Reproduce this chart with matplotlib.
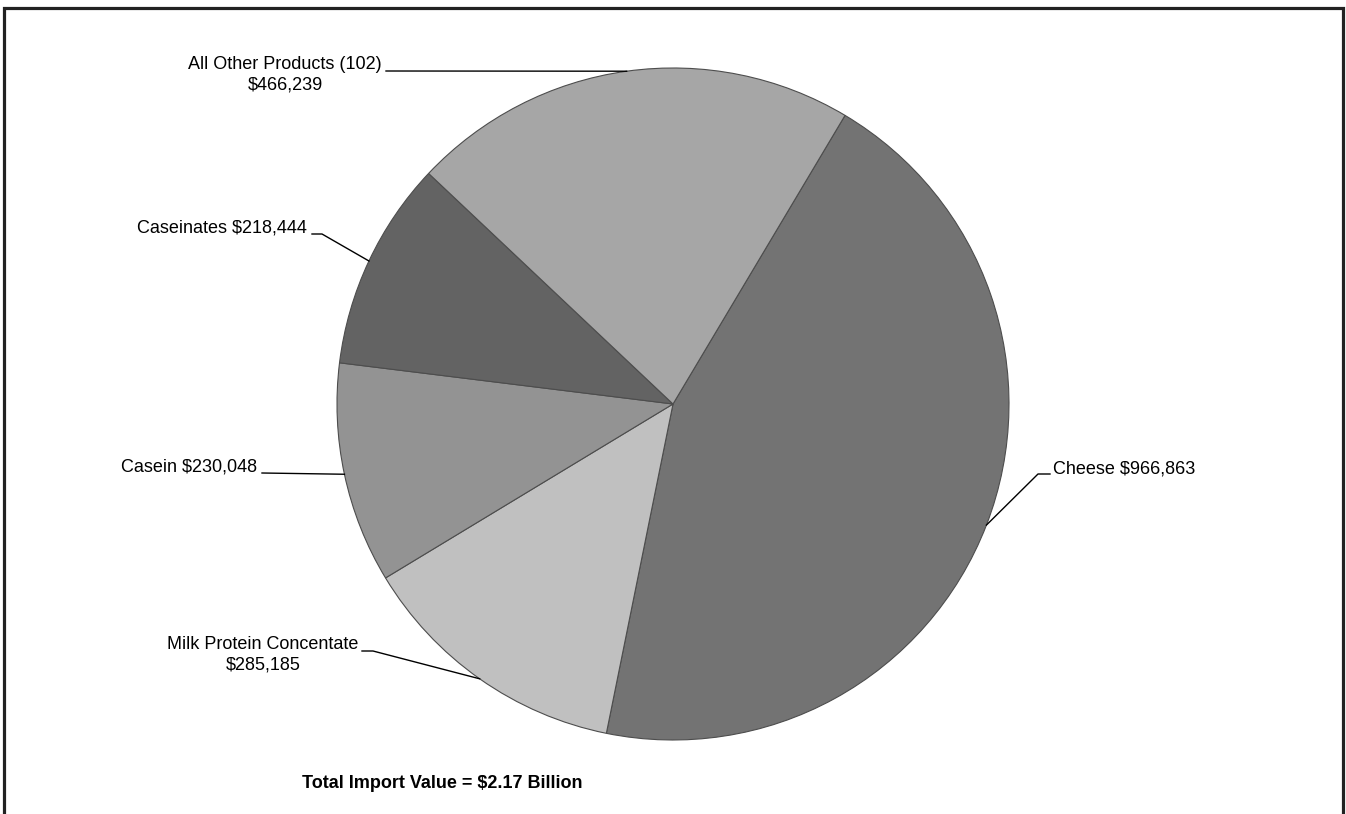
import numpy as np
import matplotlib.pyplot as plt

plt.rcParams['font.family'] = ['Liberation Sans', 'DejaVu Sans']

# dairy import values (thousand $)
products = ["Cheese", "Milk Protein Concentate", "Casein", "Caseinates", "All Other Products (102)"]
values = [966863, 285185, 230048, 218444, 466239]
colors = ["#737373", "#c0c0c0", "#939393", "#636363", "#a6a6a6"]
total_text = "Total Import Value = $2.17 Billion"

W, H = 1346, 814
fig = plt.figure(figsize=(W / 100, H / 100), dpi=100)
ax = fig.add_axes([0, 0, 1, 1])

def py(y):
    # pixel rows counted from the top
    return H - y

cx, cy, r = 673, py(404), 336
wedges, _ = ax.pie(values, colors=colors, startangle=59.2, counterclock=False,
                   center=(cx, cy), radius=r, frame=True,
                   wedgeprops=dict(edgecolor="#4d4d4d", linewidth=0.8))
ax.set_xlim(0, W)
ax.set_ylim(0, H)
ax.set_aspect("equal")
ax.axis("off")

def fmt(v):
    return "${:,}".format(v)

# label text, text position, alignment, elbow points of the leader line
labels = [
    ("{} {}".format(products[0], fmt(values[0])), (1053, 469), "left", [(1050, 474), (1038, 474)]),
    ("{}\n{}".format(products[1], fmt(values[1])), (263, 655), "center", [(362, 651), (373, 651)]),
    ("{} {}".format(products[2], fmt(values[2])), (257, 467), "right", [(262, 473)]),
    ("{} {}".format(products[3], fmt(values[3])), (307, 228), "right", [(312, 234), (322, 234)]),
    ("{}\n{}".format(products[4], fmt(values[4])), (285, 75), "center", [(386, 71)]),
]

for w, (txt, (tx, ty), ha, elbow) in zip(wedges, labels):
    mid = np.deg2rad((w.theta1 + w.theta2) / 2)
    ex, ey = cx + r * np.cos(mid), cy + r * np.sin(mid)
    ax.text(tx, py(ty), txt, ha=ha, va="center", fontsize=13, linespacing=1.3,
            multialignment="center")
    xs = [p[0] for p in elbow] + [ex]
    ys = [py(p[1]) for p in elbow] + [ey]
    ax.plot(xs, ys, color="black", lw=1.0)

ax.text(442, py(784), total_text, ha="center", va="center", fontsize=13, fontweight="bold")

# open frame around the chart
ax.plot([4, 4, 1342.5, 1342.5], [-5, py(8), py(8), -5], color="#222222", lw=2.3,
        solid_joinstyle="miter", clip_on=False)

fig.savefig("out.png", dpi=100)
